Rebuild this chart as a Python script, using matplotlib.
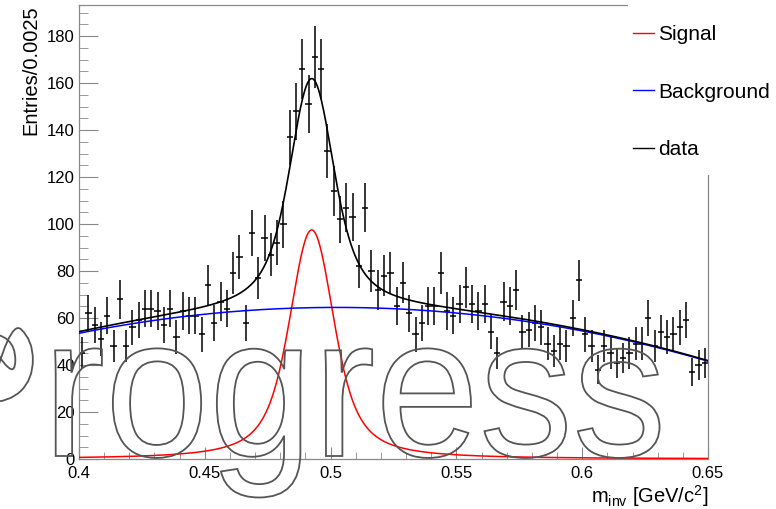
import numpy as np
import matplotlib
matplotlib.use("Agg")
import matplotlib.pyplot as plt
from matplotlib.lines import Line2D
from matplotlib.patches import Rectangle, PathPatch
from matplotlib.textpath import TextPath
from matplotlib.font_manager import FontProperties
from matplotlib.transforms import Affine2D

plt.rcParams['font.family'] = ['Liberation Sans', 'DejaVu Sans']
plt.rcParams['mathtext.default'] = 'regular'

# invariant mass histogram, 100 bins of 0.0025 GeV/c^2
m_lo, m_hi, bin_w = 0.4, 0.65, 0.0025
counts = [45, 62, 57, 51, 61, 48, 68, 48, 56, 59,
          64, 64, 63, 57, 64, 52, 63, 61, 61, 53,
          74, 58, 67, 64, 79, 86, 58, 96, 77, 94,
          87, 92, 100, 137, 148, 166, 151, 171, 166, 131,
          114, 102, 107, 103, 82, 107, 80, 72, 78, 79,
          65, 75, 62, 53, 58, 65, 65, 79, 63, 61,
          66, 73, 66, 63, 66, 54, 45, 67, 65, 72,
          54, 55, 58, 56, 49, 46, 49, 48, 60, 76,
          53, 48, 38, 48, 45, 41, 43, 45, 49, 49,
          60, 48, 54, 52, 53, 56, 59, 37, 40, 41]

# fit results
sig_amp, sig_mean, sig_sigma, sig_gamma = 97.5, 0.4925, 0.0055, 0.0065
bkg_pars = [64.5, 5.0, -1050.0]   # polynomial in (m - 0.5)

x_ticks = [0.4, 0.45, 0.5, 0.55, 0.6, 0.65]
x_ticklabels = ['0.4', '0.45', '0.5', '0.55', '0.6', '0.65']
y_ticks = [0, 20, 40, 60, 80, 100, 120, 140, 160, 180]


def voigt(m, mean, sigma, gamma):
    u = np.linspace(-8 * sigma, 8 * sigma, 801)
    g = np.exp(-0.5 * (u / sigma) ** 2)
    def prof(x):
        d = x[:, None] - mean - u[None, :]
        return (g / (1 + (d / gamma) ** 2)).sum(axis=1)
    return prof(np.asarray(m)) / prof(np.array([mean]))[0]


def background(m):
    d = m - 0.5
    return bkg_pars[0] + bkg_pars[1] * d + bkg_pars[2] * d ** 2


counts = np.array(counts, dtype=float)
centers = m_lo + bin_w * (np.arange(len(counts)) + 0.5)
mm = np.linspace(m_lo, m_hi, 600)
sig = sig_amp * voigt(mm, sig_mean, sig_sigma, sig_gamma)
bkg = background(mm)

fig = plt.figure(figsize=(7.76, 5.09), dpi=100)
ax = fig.add_axes([79 / 776, 50 / 509, 629 / 776, 454 / 509])

ax.errorbar(centers, counts, yerr=np.sqrt(counts), xerr=bin_w / 2,
            fmt='none', ecolor='black', elinewidth=1.1, capsize=0, zorder=2)
ax.plot(mm, sig, color='#ff0000', lw=1.1, zorder=3)
ax.plot(mm, bkg, color='#0000ff', lw=1.1, zorder=3)
ax.plot(mm, sig + bkg, color='black', lw=1.2, zorder=4)

ax.set_xlim(m_lo, m_hi)
ax.set_ylim(0, 193.2)
ax.set_xticks(x_ticks)
ax.set_xticklabels(x_ticklabels)
ax.set_xticks(np.arange(0.41, 0.65, 0.01), minor=True)
ax.set_yticks(y_ticks)
ax.set_yticks(np.arange(5, 195, 5), minor=True)
ax.tick_params(direction='in', colors='#888888', labelcolor='black',
               labelsize=12, top=False, right=False, which='both')
ax.tick_params(axis='y', which='major', length=13.5, pad=3)
ax.tick_params(axis='y', which='minor', length=6.5)
ax.tick_params(axis='x', which='major', length=9, pad=5)
ax.tick_params(axis='x', which='minor', length=5)
for sp in ax.spines.values():
    sp.set_color('#888888')
    sp.set_linewidth(0.9)

ax.set_ylabel('Entries/0.0025', fontsize=14.5, loc='top')
ax.yaxis.set_label_coords(-0.062, 1.0)
ax.set_xlabel(r'm$_{inv}$ [GeV/c$^{2}$]', fontsize=14.5, loc='right')
ax.xaxis.set_label_coords(1.0, -0.052)

# legend sits on a white pad over the frame corner
fig.patches.append(Rectangle((628 / 776, 334 / 509), 1, 1, transform=fig.transFigure,
                             facecolor='white', edgecolor='none', zorder=2))
handles = [Line2D([], [], color='#ff0000', lw=1),
           Line2D([], [], color='#0000ff', lw=1),
           Line2D([], [], color='black', lw=1)]
leg = fig.legend(handles, ['Signal', 'Background', 'data'], loc='upper left',
                 bbox_to_anchor=(633 / 776, 484 / 509), frameon=False, fontsize=15,
                 handlelength=1.0, handletextpad=0.2, labelspacing=1.85,
                 borderpad=0, borderaxespad=0)
leg.set_zorder(3)

# hollow "Progress" stamp
tp = TextPath((0, 0), 'Progress', size=1, prop=FontProperties(family='Liberation Sans'))
tr = Affine2D().scale(1.87, 2.0).translate(-0.82, 0.53) + fig.dpi_scale_trans
fig.patches.append(PathPatch(tp, transform=tr, facecolor='none', edgecolor='#555555',
                             lw=1.3, zorder=5))

fig.savefig('out.png', dpi=100)
